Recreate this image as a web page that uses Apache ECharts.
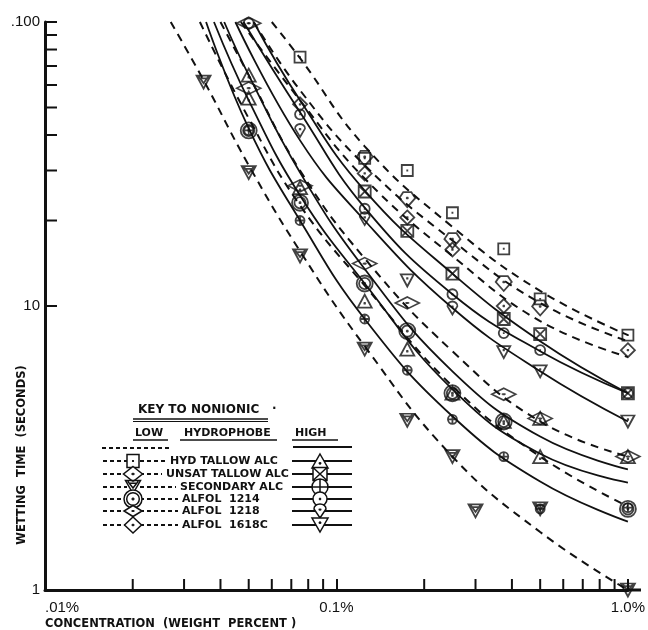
<!DOCTYPE html>
<html><head><meta charset="utf-8">
<script src="https://cdn.jsdelivr.net/npm/echarts/dist/echarts.min.js"></script>
<style>html,body{margin:0;padding:0;background:#fff}#c{width:648px;height:630px}</style>
</head><body><div id="c"></div>
<script>
// ---- tick labels / minor ticks ----
const yMinorTicks = [20,30,40,50,60,70,80,90];
const xMinorTicks = [0.02,0.03,0.04,0.05,0.06,0.07,0.08,0.09,0.2,0.3,0.4,0.5,0.6,0.7,0.8,0.9];
const keyNames = ['HYD TALLOW ALC','UNSAT TALLOW ALC','SECONDARY ALC','ALFOL  1214','ALFOL  1218','ALFOL  1618C'];

// ---- LOW hydrophobe nonionic (dashed) : measured points and drawn curves ----
const lowHydPts   = [[0.075,75.2],[0.125,33.1],[0.175,30.0],[0.25,21.3],[0.375,15.9],[0.5,10.6],[1.0,7.9]];
const lowHydFit   = [[0.06,100],[0.075,74.6],[0.125,36.5],[0.25,19.0],[0.5,11.3],[1.0,7.9]];
const lowUnsatPts = [[0.125,33.1],[0.175,23.7],[0.25,17.0],[0.375,12.0],[0.5,9.84]];
const lowUnsatFit = [[0.052,100],[0.075,57.5],[0.125,31.3],[0.25,17.0],[0.5,10.25],[1.0,7.52]];
const lowSecPts   = [[0.035,61.4],[0.05,29.5],[0.075,15.0],[0.125,7.05],[0.175,3.96],[0.25,2.95],[0.3,1.90],[0.5,1.93],[1.0,1.0]];
const lowSecFit   = [[0.027,100],[0.035,62.4],[0.05,31.3],[0.075,15.6],[0.125,7.22],[0.25,2.95],[0.5,1.60],[1.0,1.0]];
const low1214Pts  = [[0.05,41.5],[0.075,23.1],[0.125,12.0],[0.175,8.16],[0.25,4.93],[0.375,3.92],[1.0,1.93]];
const low1214Fit  = [[0.034,100],[0.05,45.8],[0.075,22.6],[0.125,11.8],[0.25,5.22],[0.5,2.95],[1.0,1.97]];
const low1218Pts  = [[0.05,99],[0.05,58.5],[0.075,26.5],[0.125,14.1],[0.175,10.25],[0.375,4.89],[0.5,4.02],[1.0,2.95]];
const low1218Fit  = [[0.04,100],[0.05,65.0],[0.075,30.0],[0.125,14.7],[0.25,6.93],[0.5,3.92],[1.0,2.95]];
const low1618Pts  = [[0.075,51.3],[0.125,29.3],[0.175,20.5],[0.25,15.8],[0.375,10.0],[1.0,6.99]];
const low1618Fit  = [[0.047,100],[0.075,53.0],[0.125,28.1],[0.25,15.0],[0.5,8.85],[1.0,6.61]];

// ---- HIGH hydrophobe nonionic (solid) ----
const highHydPts   = [[0.05,65.0],[0.05,53.9],[0.075,26.1],[0.125,10.4],[0.175,7.05],[0.25,4.93],[0.375,3.92],[0.5,4.02],[0.5,2.95],[1.0,2.95]];
const highHydFit   = [[0.038,100],[0.05,53.0],[0.075,24.5],[0.125,12.0],[0.25,5.09],[0.5,3.02],[1.0,2.39]];
const highUnsatPts = [[0.125,25.3],[0.175,18.4],[0.25,13.0],[0.375,9.0],[0.5,7.96],[1.0,4.93]];
const highUnsatFit = [[0.052,100],[0.075,53.0],[0.125,25.5],[0.25,13.0],[0.5,7.52],[1.0,4.93]];
const highSecPts   = [[0.05,41.5],[0.075,20.0],[0.125,9.0],[0.175,5.94],[0.25,3.99],[0.375,2.95],[0.5,1.93],[1.0,1.95]];
const highSecFit   = [[0.0357,100],[0.05,42.2],[0.075,20.0],[0.125,9.0],[0.25,4.09],[0.5,2.41],[1.0,1.74]];
const high1214Pts  = [[0.05,99],[0.075,47.3],[0.125,22.0],[0.25,11.0],[0.375,8.03],[0.5,6.99],[1.0,4.93]];
const high1214Fit  = [[0.048,100],[0.075,48.1],[0.125,22.2],[0.25,11.0],[0.5,6.93],[1.0,4.93]];
const high1218Pts  = [[0.075,41.5],[0.125,20.3],[0.25,9.84]];
const high1218Fit  = [[0.0412,100],[0.05,65.0],[0.075,29.5],[0.125,13.5],[0.25,5.89],[0.5,3.47],[1.0,2.66]];
const high1618Pts  = [[0.175,12.3],[0.375,6.88],[0.5,5.89],[1.0,3.92]];
const high1618Fit  = [[0.045,100],[0.075,38.3],[0.125,20.0],[0.25,9.84],[0.5,5.89],[1.0,3.92]];

// ---- marker shapes (20x20 box) ----
const DOT = ' M8.3,10L11.7,10 M10,8.3L10,11.7';
const CIRC = 'M0,10A10,10 0 0,1 20,10A10,10 0 0,1 0,10Z';
const SYM = {
  sqDot:   'M0,0L20,0L20,20L0,20Z' + DOT,
  pentDot: 'M5,0L15,0L20,8L10,20L0,8Z M8.3,8L11.7,8 M10,6.3L10,9.7',
  diaDot:  'M10,0L20,10L10,20L0,10Z' + DOT,
  dblCirc: CIRC + ' M3,10A7,7 0 0,1 17,10A7,7 0 0,1 3,10Z' + DOT,
  secLow:  'M0,0L20,0L10,19Z M3,1L10,11L17,1 M6,4L14,4',
  triUp:   'M10,0L20,18L0,18Z M8.3,12L11.7,12 M10,10.3L10,13.7',
  sqX:     'M0,0L20,0L20,20L0,20Z M0,0L20,20 M20,0L0,20',
  circPlus: CIRC + ' M0,10L20,10 M10,0L10,20',
  circDot: CIRC + DOT,
  shield:  'M3,7A7,7 0 0,1 17,7L10,20Z M8.3,8L11.7,8 M10,6.3L10,9.7',
  triDown: 'M0,0L20,0L10,18Z M8.3,6L11.7,6 M10,4.3L10,7.7'
};

const BLACK = '#111';
function fitLine(name, data, dashed) {
  return {type:'line', name:name, data:data, smooth:0.45, symbol:'none',
    silent:true, z:2, clip:false,
    lineStyle:{color:BLACK, width: dashed ? 2 : 1.8, type: dashed ? [8,6] : 'solid'}};
}
function pts(name, data, sym, size) {
  return {type:'scatter', name:name, data:data, symbol:'path://' + SYM[sym], symbolSize:size,
    silent:true, z:3,
    itemStyle:{color:'rgba(255,255,255,0)', borderColor:BLACK, borderWidth:1.8}};
}

// ---- key (legend) ----
const graphic = [];
const keySyms = [];
const KF = 'bold 11px "DejaVu Sans", sans-serif';
function txt(x, y, s, font, align) {
  graphic.push({type:'text', x:x, y:y, silent:true, style:{text:s, font:font || KF, fill:BLACK, align: align||'left', verticalAlign:'middle'}});
}
function ln(x1, y1, x2, y2, w, dash) {
  graphic.push({type:'line', silent:true, shape:{x1:x1,y1:y1,x2:x2,y2:y2}, style:{stroke:BLACK, lineWidth:w, lineDash: dash || null}});
}
function sym(name, cx, cy, w, h) { keySyms.push([name, cx, cy, w, h]); }
txt(138, 410, 'KEY TO NONIONIC', 'bold 12px "DejaVu Sans", sans-serif');
ln(133, 419, 268, 419, 1.5); ln(133, 421.5, 268, 421.5, 1.2);
txt(272, 409, '·', 'bold 12px "DejaVu Sans", sans-serif');
txt(135, 433, 'LOW'); ln(133, 440, 168, 440, 1.5);
txt(184, 433, 'HYDROPHOBE'); ln(180, 440, 277, 440, 1.5);
txt(295, 433, 'HIGH'); ln(292, 440, 338, 440, 1.5);
ln(102, 448, 171, 448, 1.8, [4,3]);
ln(293, 447, 352, 447, 1.8);
// x axis line continues a little past 1.0%
ln(629, 590, 641, 590, 3);
const rowY = [461, 474, 487, 499, 511, 525];
const rowX = [170, 166, 180, 182, 182, 182];
const lowKey  = [['sqDot',12,13],['diaDot',19,15],['secLow',15,13],['dblCirc',18,18],['diaDot',18,11],['diaDot',17,16]];
const highKey = [['triUp',16,14],['sqX',14,13],['circPlus',16,16],['circDot',14,14],['shield',12,14],['triDown',16,14]];
for (let i = 0; i < 6; i++) {
  const y = rowY[i];
  ln(103, y, 127, y, 1.8, [4,3]);
  ln(140, y, rowX[i] - 4, y, 1.8, [4,3]);
  sym(lowKey[i][0], 133, y, lowKey[i][1], lowKey[i][2]);
  txt(rowX[i], y, keyNames[i]);
  ln(292, y, 352, y, 1.8);
  sym(highKey[i][0], 320, y, highKey[i][1], highKey[i][2]);
}
// axis titles
txt(45, 624, 'CONCENTRATION  (WEIGHT  PERCENT )', 'bold 11.5px "DejaVu Sans", sans-serif');
graphic.push({type:'text', x:22, y:455, rotation:Math.PI/2, silent:true,
  style:{text:'WETTING  TIME  (SECONDS)', font:'bold 11.5px "DejaVu Sans", sans-serif', fill:BLACK, align:'center', verticalAlign:'middle'}});

const series = [
  fitLine('Low HYD', lowHydFit, true),
  fitLine('Low UNSAT', lowUnsatFit, true),
  fitLine('Low SEC', lowSecFit, true),
  fitLine('Low 1214', low1214Fit, true),
  fitLine('Low 1218', low1218Fit, true),
  fitLine('Low 1618C', low1618Fit, true),
  fitLine('High HYD', highHydFit, false),
  fitLine('High UNSAT', highUnsatFit, false),
  fitLine('High SEC', highSecFit, false),
  fitLine('High 1214', high1214Fit, false),
  fitLine('High 1218', high1218Fit, false),
  fitLine('High 1618C', high1618Fit, false),
  pts('Low HYD pts', lowHydPts, 'sqDot', 11),
  pts('Low UNSAT pts', lowUnsatPts, 'pentDot', [16,15]),
  pts('Low SEC pts', lowSecPts, 'secLow', [14,13]),
  pts('Low 1214 pts', low1214Pts, 'dblCirc', 16),
  pts('Low 1218 pts', low1218Pts, 'diaDot', [24,12]),
  pts('Low 1618C pts', low1618Pts, 'diaDot', 14),
  pts('High HYD pts', highHydPts, 'triUp', [14,13]),
  pts('High UNSAT pts', highUnsatPts, 'sqX', 12),
  pts('High SEC pts', highSecPts, 'circPlus', 9),
  pts('High 1214 pts', high1214Pts, 'circDot', 10),
  pts('High 1218 pts', high1218Pts, 'shield', [10,13]),
  pts('High 1618C pts', high1618Pts, 'triDown', [13,12]),
  {type:'custom', name:'yMinor', silent:true, z:4, data: yMinorTicks.map(v => [0.01, v]),
    renderItem: function(p, api){ const c = api.coord([api.value(0), api.value(1)]);
      return {type:'line', shape:{x1:c[0], y1:c[1], x2:c[0]+12, y2:c[1]}, style:{stroke:BLACK, lineWidth:2}}; }},
  {type:'custom', name:'xMinor', silent:true, z:4, data: xMinorTicks.map(v => [v, 1]),
    renderItem: function(p, api){ const c = api.coord([api.value(0), api.value(1)]);
      return {type:'line', shape:{x1:c[0], y1:c[1], x2:c[0], y2:c[1]-11}, style:{stroke:BLACK, lineWidth:2}}; }},
  {type:'custom', name:'keySymbols', coordinateSystem:'none', silent:true, z:10, data:[0],
    renderItem: function(p, api){
      return {type:'group', children: keySyms.map(function(k){
        return {type:'path', shape:{pathData:SYM[k[0]], x:k[1]-k[3]/2, y:k[2]-k[4]/2, width:k[3], height:k[4], layout:'cover'},
          style:{fill:'#fff', stroke:BLACK, lineWidth:1.5}};
      })};
    }}
];

const chart = echarts.init(document.getElementById('c'), null, {renderer:'canvas'});
chart.setOption({
  animation:false,
  backgroundColor:'#fff',
  grid:{left:45, right:17, top:22, bottom:40, containLabel:false},
  xAxis:{type:'log', logBase:10, min:0.01, max:1,
    axisLine:{lineStyle:{color:BLACK, width:3}},
    axisTick:{inside:true, length:11, lineStyle:{color:BLACK, width:2}},
    splitLine:{show:false}, minorTick:{show:false},
    axisLabel:{margin:10, color:BLACK, fontSize:15, fontFamily:'"Liberation Sans", sans-serif', alignMinLabel:'left',
      formatter:function(v){ const e = Math.round(Math.log10(v)); return e === -2 ? '.01%' : (e === -1 ? '0.1%' : '1.0%'); }}},
  yAxis:{type:'log', logBase:10, min:1, max:100,
    axisLine:{lineStyle:{color:BLACK, width:3}},
    axisTick:{inside:true, length:12, lineStyle:{color:BLACK, width:2}},
    splitLine:{show:false}, minorTick:{show:false},
    axisLabel:{margin:5, color:BLACK, fontSize:15, fontFamily:'"Liberation Sans", sans-serif',
      formatter:function(v){ const e = Math.round(Math.log10(v)); return e === 2 ? '.100' : (e === 1 ? '10' : '1'); }}},
  series: series,
  graphic: graphic
});
</script></body></html>
